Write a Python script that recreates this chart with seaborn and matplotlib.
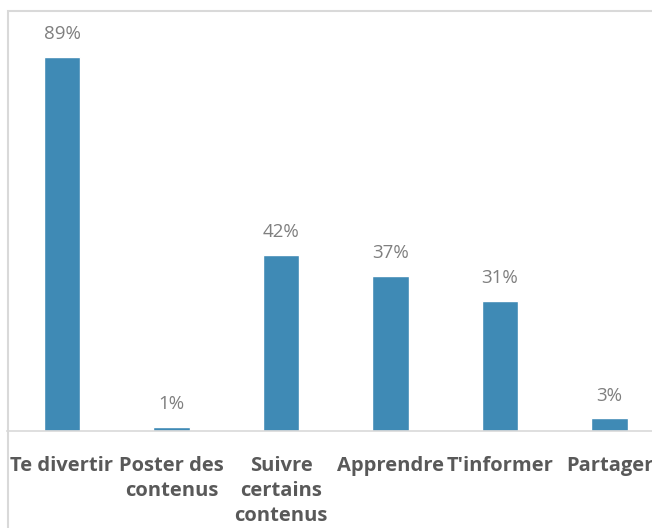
import matplotlib
matplotlib.use("Agg")
import matplotlib.pyplot as plt
import seaborn as sns
import pandas as pd
from matplotlib.patches import Rectangle

# Chart data
categories = ["Te divertir", "Poster des\ncontenus", "Suivre\ncertains\ncontenus",
              "Apprendre", "T'informer", "Partager"]
values = [89, 1, 42, 37, 31, 3]

df = pd.DataFrame({"cat": categories, "val": values})

sns.set_style("white")
plt.rcParams["font.family"] = ["Open Sans", "DejaVu Sans"]

fig = plt.figure(figsize=(6.52, 5.28), dpi=100)
ax = fig.add_axes([7.25 / 652, 97 / 528, 657 / 652, 420 / 528])

sns.barplot(data=df, x="cat", y="val", color="#3F8AB5", width=0.33,
            saturation=1, ax=ax)

ax.set_xlim(-0.5, 5.5)
ax.set_ylim(0, 100)

# value labels
for i, v in enumerate(values):
    ax.annotate(f"{v}%", (i, v), xytext=(0, 10), textcoords="offset points",
                ha="center", va="bottom", fontsize=13.5, color="#7F7F7F")

for s in ["top", "right", "left"]:
    ax.spines[s].set_visible(False)
ax.spines["bottom"].set_color("#D9D9D9")
ax.spines["bottom"].set_linewidth(1.2)

ax.set_yticks([])
ax.set_xlabel("")
ax.set_ylabel("")
ax.tick_params(axis="x", length=0, pad=18)
for lbl in ax.get_xticklabels():
    lbl.set_fontsize(14.5)
    lbl.set_fontweight("bold")
    lbl.set_color("#595959")
    lbl.set_linespacing(1.32)

# chart frame
fig.patches.append(Rectangle((8 / 652, -0.1), 1.1, (528 - 11) / 528 + 0.1,
                             transform=fig.transFigure, fill=False,
                             edgecolor="#D9D9D9", linewidth=1.5))

fig.savefig("out.png", dpi=100)
